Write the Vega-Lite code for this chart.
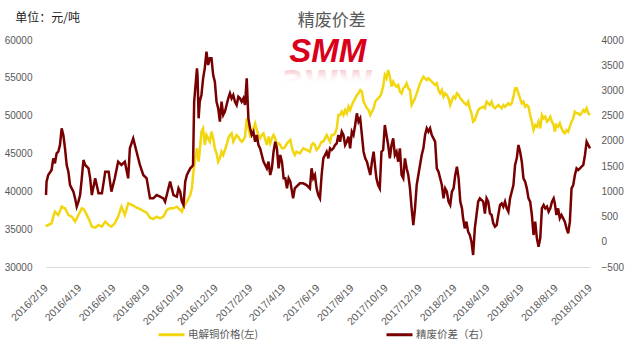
{
  "$schema": "https://vega.github.io/schema/vega-lite/v6.json",
  "width": 544,
  "height": 227,
  "autosize": {"type": "none"},
  "padding": {"left": 46, "top": 40, "right": 46, "bottom": 84},
  "background": "white",
  "config": {
    "view": {"stroke": null},
    "axis": {"grid": false, "ticks": false, "labelFont": "Liberation Sans", "labelFontSize": 10, "labelColor": "#595959", "title": null},
    "axisX": {"labelAngle": -45, "labelAlign": "right", "labelBaseline": "middle", "labelPadding": 19, "labelFontSize": 10.5, "labelFlush": false, "labelOverlap": false, "labelBound": false, "domainColor": "#d9d9d9", "domainWidth": 1}
  },
  "data": {
    "values": [
      {"date": "2016-02-19", "copper": 35332, "spread": 927},
      {"date": "2016-02-20", "copper": 35465, "spread": 1192},
      {"date": "2016-02-23", "copper": 35552, "spread": 1324},
      {"date": "2016-02-29", "copper": 35773, "spread": 1423},
      {"date": "2016-03-03", "copper": 36654, "spread": 1654},
      {"date": "2016-03-06", "copper": 37315, "spread": 1555},
      {"date": "2016-03-09", "copper": 37094, "spread": 1753},
      {"date": "2016-03-12", "copper": 36874, "spread": 1786},
      {"date": "2016-03-15", "copper": 37400, "spread": 1918},
      {"date": "2016-03-18", "copper": 37975, "spread": 2249},
      {"date": "2016-03-21", "copper": 37843, "spread": 2117},
      {"date": "2016-03-24", "copper": 37755, "spread": 1852},
      {"date": "2016-03-27", "copper": 37315, "spread": 1522},
      {"date": "2016-03-30", "copper": 36874, "spread": 1390},
      {"date": "2016-04-02", "copper": 36742, "spread": 1125},
      {"date": "2016-04-05", "copper": 36654, "spread": 1059},
      {"date": "2016-04-08", "copper": 36344, "spread": 993},
      {"date": "2016-04-11", "copper": 36013, "spread": 861},
      {"date": "2016-04-14", "copper": 36434, "spread": 696},
      {"date": "2016-04-17", "copper": 36874, "spread": 795},
      {"date": "2016-04-20", "copper": 37315, "spread": 927},
      {"date": "2016-04-23", "copper": 37755, "spread": 1258},
      {"date": "2016-04-26", "copper": 37667, "spread": 1621},
      {"date": "2016-04-29", "copper": 37315, "spread": 1522},
      {"date": "2016-05-05", "copper": 36434, "spread": 1456},
      {"date": "2016-05-08", "copper": 35905, "spread": 1258},
      {"date": "2016-05-11", "copper": 35332, "spread": 927},
      {"date": "2016-05-17", "copper": 35200, "spread": 1258},
      {"date": "2016-05-23", "copper": 35552, "spread": 960},
      {"date": "2016-05-29", "copper": 35332, "spread": 960},
      {"date": "2016-06-04", "copper": 35993, "spread": 1390},
      {"date": "2016-06-10", "copper": 35552, "spread": 1390},
      {"date": "2016-06-15", "copper": 35332, "spread": 993},
      {"date": "2016-06-21", "copper": 35773, "spread": 1258},
      {"date": "2016-06-27", "copper": 36654, "spread": 1588},
      {"date": "2016-07-03", "copper": 37975, "spread": 1522},
      {"date": "2016-07-09", "copper": 36874, "spread": 1588},
      {"date": "2016-07-15", "copper": 38415, "spread": 1258},
      {"date": "2016-07-18", "copper": 38326, "spread": 1852},
      {"date": "2016-07-24", "copper": 38106, "spread": 2050},
      {"date": "2016-07-30", "copper": 37843, "spread": 1786},
      {"date": "2016-08-05", "copper": 37667, "spread": 1522},
      {"date": "2016-08-11", "copper": 37403, "spread": 1324},
      {"date": "2016-08-17", "copper": 37183, "spread": 1258},
      {"date": "2016-08-23", "copper": 36522, "spread": 861},
      {"date": "2016-08-29", "copper": 36346, "spread": 861},
      {"date": "2016-09-04", "copper": 36654, "spread": 927},
      {"date": "2016-09-10", "copper": 36434, "spread": 894},
      {"date": "2016-09-16", "copper": 36654, "spread": 861},
      {"date": "2016-09-19", "copper": 37094, "spread": 795},
      {"date": "2016-09-22", "copper": 37535, "spread": 927},
      {"date": "2016-09-28", "copper": 37755, "spread": 1192},
      {"date": "2016-10-04", "copper": 37755, "spread": 927},
      {"date": "2016-10-10", "copper": 37975, "spread": 894},
      {"date": "2016-10-13", "copper": 37755, "spread": 1059},
      {"date": "2016-10-16", "copper": 37535, "spread": 993},
      {"date": "2016-10-19", "copper": 37315, "spread": 795},
      {"date": "2016-10-22", "copper": 37975, "spread": 729},
      {"date": "2016-10-25", "copper": 38282, "spread": 1192},
      {"date": "2016-10-28", "copper": 38636, "spread": 1324},
      {"date": "2016-11-03", "copper": 39517, "spread": 1456},
      {"date": "2016-11-06", "copper": 40398, "spread": 1489},
      {"date": "2016-11-08", "copper": 42160, "spread": 1522},
      {"date": "2016-11-10", "copper": 43262, "spread": 2777},
      {"date": "2016-11-12", "copper": 44362, "spread": 3042},
      {"date": "2016-11-15", "copper": 45684, "spread": 3438},
      {"date": "2016-11-16", "copper": 45023, "spread": 3306},
      {"date": "2016-11-18", "copper": 43922, "spread": 2447},
      {"date": "2016-11-20", "copper": 45243, "spread": 2777},
      {"date": "2016-11-23", "copper": 47887, "spread": 2910},
      {"date": "2016-11-26", "copper": 48327, "spread": 3240},
      {"date": "2016-11-29", "copper": 46124, "spread": 3438},
      {"date": "2016-12-02", "copper": 47446, "spread": 3769},
      {"date": "2016-12-05", "copper": 47006, "spread": 3504},
      {"date": "2016-12-08", "copper": 46565, "spread": 3636},
      {"date": "2016-12-11", "copper": 47887, "spread": 3636},
      {"date": "2016-12-14", "copper": 47006, "spread": 3306},
      {"date": "2016-12-17", "copper": 45684, "spread": 3174},
      {"date": "2016-12-20", "copper": 45023, "spread": 2777},
      {"date": "2016-12-23", "copper": 43922, "spread": 2645},
      {"date": "2016-12-26", "copper": 44362, "spread": 2381},
      {"date": "2016-12-29", "copper": 45243, "spread": 2777},
      {"date": "2017-01-01", "copper": 44803, "spread": 2513},
      {"date": "2017-01-04", "copper": 45464, "spread": 2579},
      {"date": "2017-01-07", "copper": 46124, "spread": 2711},
      {"date": "2017-01-10", "copper": 47006, "spread": 2843},
      {"date": "2017-01-13", "copper": 47446, "spread": 2943},
      {"date": "2017-01-16", "copper": 47666, "spread": 2843},
      {"date": "2017-01-19", "copper": 46565, "spread": 2910},
      {"date": "2017-01-22", "copper": 47006, "spread": 2777},
      {"date": "2017-01-25", "copper": 47446, "spread": 2711},
      {"date": "2017-01-28", "copper": 47226, "spread": 2876},
      {"date": "2017-01-31", "copper": 46786, "spread": 2843},
      {"date": "2017-02-03", "copper": 46565, "spread": 2777},
      {"date": "2017-02-06", "copper": 46786, "spread": 2843},
      {"date": "2017-02-09", "copper": 47226, "spread": 2711},
      {"date": "2017-02-12", "copper": 49649, "spread": 3240},
      {"date": "2017-02-15", "copper": 48327, "spread": 2447},
      {"date": "2017-02-18", "copper": 47446, "spread": 2249},
      {"date": "2017-02-21", "copper": 48106, "spread": 2117},
      {"date": "2017-02-24", "copper": 48327, "spread": 2183},
      {"date": "2017-02-27", "copper": 48988, "spread": 1984},
      {"date": "2017-03-02", "copper": 48106, "spread": 2117},
      {"date": "2017-03-05", "copper": 47446, "spread": 1918},
      {"date": "2017-03-08", "copper": 47006, "spread": 1852},
      {"date": "2017-03-11", "copper": 47446, "spread": 1720},
      {"date": "2017-03-14", "copper": 47666, "spread": 1588},
      {"date": "2017-03-20", "copper": 46124, "spread": 1456},
      {"date": "2017-03-23", "copper": 47226, "spread": 1588},
      {"date": "2017-03-26", "copper": 46344, "spread": 1324},
      {"date": "2017-03-29", "copper": 47006, "spread": 1456},
      {"date": "2017-04-01", "copper": 47446, "spread": 1786},
      {"date": "2017-04-04", "copper": 47006, "spread": 1984},
      {"date": "2017-04-07", "copper": 46124, "spread": 1852},
      {"date": "2017-04-10", "copper": 46344, "spread": 1456},
      {"date": "2017-04-13", "copper": 46124, "spread": 1720},
      {"date": "2017-04-16", "copper": 45684, "spread": 1588},
      {"date": "2017-04-19", "copper": 45684, "spread": 1258},
      {"date": "2017-04-22", "copper": 45904, "spread": 1258},
      {"date": "2017-04-25", "copper": 46344, "spread": 1059},
      {"date": "2017-04-28", "copper": 46565, "spread": 1258},
      {"date": "2017-05-01", "copper": 46786, "spread": 1192},
      {"date": "2017-05-03", "copper": 46124, "spread": 1059},
      {"date": "2017-05-06", "copper": 45243, "spread": 861},
      {"date": "2017-05-09", "copper": 44803, "spread": 1059},
      {"date": "2017-05-12", "copper": 45243, "spread": 1092},
      {"date": "2017-05-18", "copper": 45023, "spread": 1158},
      {"date": "2017-05-24", "copper": 45684, "spread": 1158},
      {"date": "2017-05-30", "copper": 45464, "spread": 1125},
      {"date": "2017-06-05", "copper": 45243, "spread": 1059},
      {"date": "2017-06-08", "copper": 46124, "spread": 1456},
      {"date": "2017-06-11", "copper": 46344, "spread": 1258},
      {"date": "2017-06-14", "copper": 46124, "spread": 1324},
      {"date": "2017-06-17", "copper": 45464, "spread": 1059},
      {"date": "2017-06-20", "copper": 45684, "spread": 927},
      {"date": "2017-06-23", "copper": 46124, "spread": 861},
      {"date": "2017-06-26", "copper": 46565, "spread": 1324},
      {"date": "2017-06-29", "copper": 46565, "spread": 1654},
      {"date": "2017-07-02", "copper": 47006, "spread": 1720},
      {"date": "2017-07-05", "copper": 47446, "spread": 1786},
      {"date": "2017-07-08", "copper": 47006, "spread": 1654},
      {"date": "2017-07-11", "copper": 46565, "spread": 1852},
      {"date": "2017-07-14", "copper": 47446, "spread": 1819},
      {"date": "2017-07-17", "copper": 47446, "spread": 1852},
      {"date": "2017-07-20", "copper": 47666, "spread": 1918},
      {"date": "2017-07-23", "copper": 48327, "spread": 1951},
      {"date": "2017-07-26", "copper": 50089, "spread": 2117},
      {"date": "2017-07-29", "copper": 50089, "spread": 1984},
      {"date": "2017-08-01", "copper": 50530, "spread": 2183},
      {"date": "2017-08-04", "copper": 50089, "spread": 2117},
      {"date": "2017-08-07", "copper": 50750, "spread": 1918},
      {"date": "2017-08-10", "copper": 50310, "spread": 1984},
      {"date": "2017-08-13", "copper": 51190, "spread": 2084},
      {"date": "2017-08-16", "copper": 50750, "spread": 1852},
      {"date": "2017-08-19", "copper": 51411, "spread": 2183},
      {"date": "2017-08-22", "copper": 51851, "spread": 2117},
      {"date": "2017-08-25", "copper": 52292, "spread": 2315},
      {"date": "2017-08-28", "copper": 52732, "spread": 2546},
      {"date": "2017-08-31", "copper": 52952, "spread": 2381},
      {"date": "2017-09-03", "copper": 53393, "spread": 2447},
      {"date": "2017-09-06", "copper": 53173, "spread": 2117},
      {"date": "2017-09-09", "copper": 51851, "spread": 1786},
      {"date": "2017-09-12", "copper": 51411, "spread": 1654},
      {"date": "2017-09-15", "copper": 50970, "spread": 1588},
      {"date": "2017-09-18", "copper": 50750, "spread": 1456},
      {"date": "2017-09-21", "copper": 50089, "spread": 1324},
      {"date": "2017-09-24", "copper": 50530, "spread": 1588},
      {"date": "2017-09-27", "copper": 50970, "spread": 1786},
      {"date": "2017-09-30", "copper": 51851, "spread": 1456},
      {"date": "2017-10-02", "copper": 52071, "spread": 1258},
      {"date": "2017-10-05", "copper": 52292, "spread": 1125},
      {"date": "2017-10-08", "copper": 52512, "spread": 1059},
      {"date": "2017-10-11", "copper": 52952, "spread": 1786},
      {"date": "2017-10-14", "copper": 53833, "spread": 1819},
      {"date": "2017-10-17", "copper": 55375, "spread": 2315},
      {"date": "2017-10-20", "copper": 54935, "spread": 2117},
      {"date": "2017-10-23", "copper": 56036, "spread": 1918},
      {"date": "2017-10-26", "copper": 55155, "spread": 1654},
      {"date": "2017-10-29", "copper": 53833, "spread": 1918},
      {"date": "2017-11-01", "copper": 54494, "spread": 2050},
      {"date": "2017-11-04", "copper": 54054, "spread": 1720},
      {"date": "2017-11-07", "copper": 53833, "spread": 1786},
      {"date": "2017-11-10", "copper": 54054, "spread": 1588},
      {"date": "2017-11-13", "copper": 53173, "spread": 1852},
      {"date": "2017-11-16", "copper": 52952, "spread": 1324},
      {"date": "2017-11-19", "copper": 53613, "spread": 1258},
      {"date": "2017-11-22", "copper": 53833, "spread": 1654},
      {"date": "2017-11-25", "copper": 54274, "spread": 1456},
      {"date": "2017-11-28", "copper": 53613, "spread": 1324},
      {"date": "2017-12-01", "copper": 53393, "spread": 1059},
      {"date": "2017-12-04", "copper": 51411, "spread": 663},
      {"date": "2017-12-07", "copper": 51851, "spread": 332},
      {"date": "2017-12-10", "copper": 52292, "spread": 663},
      {"date": "2017-12-13", "copper": 52952, "spread": 1125},
      {"date": "2017-12-16", "copper": 53613, "spread": 1324},
      {"date": "2017-12-19", "copper": 54274, "spread": 1522},
      {"date": "2017-12-22", "copper": 54714, "spread": 1720},
      {"date": "2017-12-25", "copper": 55155, "spread": 1852},
      {"date": "2017-12-28", "copper": 54935, "spread": 2117},
      {"date": "2017-12-31", "copper": 54714, "spread": 2249},
      {"date": "2018-01-03", "copper": 54935, "spread": 2183},
      {"date": "2018-01-06", "copper": 54714, "spread": 2249},
      {"date": "2018-01-09", "copper": 54494, "spread": 2117},
      {"date": "2018-01-12", "copper": 54274, "spread": 2050},
      {"date": "2018-01-15", "copper": 54054, "spread": 1984},
      {"date": "2018-01-18", "copper": 54274, "spread": 1456},
      {"date": "2018-01-21", "copper": 53393, "spread": 1390},
      {"date": "2018-01-24", "copper": 52952, "spread": 1258},
      {"date": "2018-01-27", "copper": 53393, "spread": 1125},
      {"date": "2018-01-30", "copper": 52512, "spread": 861},
      {"date": "2018-02-02", "copper": 52952, "spread": 1059},
      {"date": "2018-02-05", "copper": 52732, "spread": 993},
      {"date": "2018-02-08", "copper": 52292, "spread": 795},
      {"date": "2018-02-11", "copper": 51411, "spread": 729},
      {"date": "2018-02-14", "copper": 52071, "spread": 993},
      {"date": "2018-02-17", "copper": 52512, "spread": 1059},
      {"date": "2018-02-20", "copper": 52292, "spread": 1324},
      {"date": "2018-02-23", "copper": 52952, "spread": 1489},
      {"date": "2018-02-26", "copper": 52732, "spread": 1258},
      {"date": "2018-03-01", "copper": 52292, "spread": 795},
      {"date": "2018-03-04", "copper": 52071, "spread": 663},
      {"date": "2018-03-06", "copper": 51851, "spread": 465},
      {"date": "2018-03-09", "copper": 51631, "spread": 266},
      {"date": "2018-03-12", "copper": 51411, "spread": 399},
      {"date": "2018-03-15", "copper": 51851, "spread": 200},
      {"date": "2018-03-18", "copper": 50970, "spread": 134},
      {"date": "2018-03-21", "copper": 50310, "spread": 2},
      {"date": "2018-03-24", "copper": 49208, "spread": -262},
      {"date": "2018-03-27", "copper": 49428, "spread": 266},
      {"date": "2018-03-30", "copper": 50089, "spread": 531},
      {"date": "2018-04-02", "copper": 50750, "spread": 795},
      {"date": "2018-04-05", "copper": 50970, "spread": 861},
      {"date": "2018-04-11", "copper": 51190, "spread": 795},
      {"date": "2018-04-14", "copper": 50970, "spread": 559},
      {"date": "2018-04-17", "copper": 51851, "spread": 861},
      {"date": "2018-04-20", "copper": 51631, "spread": 795},
      {"date": "2018-04-23", "copper": 51411, "spread": 564},
      {"date": "2018-04-26", "copper": 51851, "spread": 531},
      {"date": "2018-04-29", "copper": 51190, "spread": 366},
      {"date": "2018-05-02", "copper": 50970, "spread": 299},
      {"date": "2018-05-05", "copper": 51190, "spread": 332},
      {"date": "2018-05-08", "copper": 51411, "spread": 531},
      {"date": "2018-05-11", "copper": 51190, "spread": 729},
      {"date": "2018-05-14", "copper": 50970, "spread": 762},
      {"date": "2018-05-17", "copper": 51411, "spread": 696},
      {"date": "2018-05-20", "copper": 51190, "spread": 795},
      {"date": "2018-05-23", "copper": 51411, "spread": 663},
      {"date": "2018-05-26", "copper": 51631, "spread": 597},
      {"date": "2018-05-29", "copper": 51411, "spread": 861},
      {"date": "2018-06-01", "copper": 51631, "spread": 993},
      {"date": "2018-06-04", "copper": 52512, "spread": 1125},
      {"date": "2018-06-07", "copper": 53613, "spread": 1522},
      {"date": "2018-06-10", "copper": 53613, "spread": 1654},
      {"date": "2018-06-13", "copper": 52952, "spread": 1918},
      {"date": "2018-06-16", "copper": 52292, "spread": 1786},
      {"date": "2018-06-19", "copper": 51631, "spread": 1588},
      {"date": "2018-06-22", "copper": 51851, "spread": 1258},
      {"date": "2018-06-25", "copper": 51190, "spread": 1192},
      {"date": "2018-06-28", "copper": 51411, "spread": 1059},
      {"date": "2018-07-01", "copper": 51190, "spread": 861},
      {"date": "2018-07-04", "copper": 50089, "spread": 795},
      {"date": "2018-07-07", "copper": 49208, "spread": 531},
      {"date": "2018-07-10", "copper": 48106, "spread": 134},
      {"date": "2018-07-13", "copper": 48767, "spread": 398},
      {"date": "2018-07-16", "copper": 48547, "spread": 68},
      {"date": "2018-07-19", "copper": 49208, "spread": -97},
      {"date": "2018-07-22", "copper": 48327, "spread": 68},
      {"date": "2018-07-25", "copper": 50089, "spread": 663},
      {"date": "2018-07-28", "copper": 49649, "spread": 729},
      {"date": "2018-07-31", "copper": 49869, "spread": 663},
      {"date": "2018-08-03", "copper": 49208, "spread": 696},
      {"date": "2018-08-06", "copper": 49428, "spread": 597},
      {"date": "2018-08-09", "copper": 49869, "spread": 663},
      {"date": "2018-08-12", "copper": 49208, "spread": 795},
      {"date": "2018-08-15", "copper": 48767, "spread": 861},
      {"date": "2018-08-17", "copper": 47887, "spread": 762},
      {"date": "2018-08-20", "copper": 48767, "spread": 531},
      {"date": "2018-08-23", "copper": 48547, "spread": 663},
      {"date": "2018-08-26", "copper": 48988, "spread": 465},
      {"date": "2018-08-29", "copper": 48327, "spread": 531},
      {"date": "2018-09-01", "copper": 47887, "spread": 465},
      {"date": "2018-09-04", "copper": 47666, "spread": 399},
      {"date": "2018-09-07", "copper": 48106, "spread": 266},
      {"date": "2018-09-10", "copper": 47887, "spread": 167},
      {"date": "2018-09-13", "copper": 48547, "spread": 399},
      {"date": "2018-09-16", "copper": 49208, "spread": 1059},
      {"date": "2018-09-19", "copper": 49649, "spread": 1125},
      {"date": "2018-09-22", "copper": 50530, "spread": 1324},
      {"date": "2018-09-25", "copper": 50310, "spread": 1456},
      {"date": "2018-09-28", "copper": 50310, "spread": 1423},
      {"date": "2018-10-01", "copper": 50089, "spread": 1456},
      {"date": "2018-10-04", "copper": 50310, "spread": 1489},
      {"date": "2018-10-07", "copper": 50750, "spread": 1522},
      {"date": "2018-10-10", "copper": 50530, "spread": 1720},
      {"date": "2018-10-13", "copper": 50970, "spread": 1984},
      {"date": "2018-10-16", "copper": 50310, "spread": 1918},
      {"date": "2018-10-19", "copper": 50089, "spread": 1852}
    ]
  },
  "layer": [
    {
      "mark": {"type": "line", "strokeWidth": 2.5},
      "encoding": {
        "x": {
          "field": "date", "type": "temporal",
          "scale": {"type": "utc", "domain": [{"year": 2016, "month": 2, "date": 19, "utc": true}, {"year": 2018, "month": 10, "date": 19, "utc": true}]},
          "axis": {
            "values": [
              {"year": 2016, "month": 2, "date": 19, "utc": true},
              {"year": 2016, "month": 4, "date": 19, "utc": true},
              {"year": 2016, "month": 6, "date": 19, "utc": true},
              {"year": 2016, "month": 8, "date": 19, "utc": true},
              {"year": 2016, "month": 10, "date": 19, "utc": true},
              {"year": 2016, "month": 12, "date": 19, "utc": true},
              {"year": 2017, "month": 2, "date": 19, "utc": true},
              {"year": 2017, "month": 4, "date": 19, "utc": true},
              {"year": 2017, "month": 6, "date": 19, "utc": true},
              {"year": 2017, "month": 8, "date": 19, "utc": true},
              {"year": 2017, "month": 10, "date": 19, "utc": true},
              {"year": 2017, "month": 12, "date": 19, "utc": true},
              {"year": 2018, "month": 2, "date": 19, "utc": true},
              {"year": 2018, "month": 4, "date": 19, "utc": true},
              {"year": 2018, "month": 6, "date": 19, "utc": true},
              {"year": 2018, "month": 8, "date": 19, "utc": true},
              {"year": 2018, "month": 10, "date": 19, "utc": true}
            ],
            "tickCount": 40,
            "labelExpr": "utcFormat(datum.value, '%Y/%-m/%-d')",
            "labelOverlap": false
          }
        },
        "y": {
          "field": "copper", "type": "quantitative",
          "scale": {"domain": [30000, 60000], "nice": false, "zero": false},
          "axis": {"orient": "left", "values": [30000, 35000, 40000, 45000, 50000, 55000, 60000], "tickCount": 20, "format": "d", "domain": false, "labelPadding": 14}
        },
        "color": {
          "datum": "电解铜价格(左)",
          "scale": {"domain": ["电解铜价格(左)", "精废价差（右）"], "range": ["#f2d60f", "#780000"]},
          "legend": {
            "orient": "none", "legendX": 111, "legendY": 280, "direction": "horizontal", "title": null,
            "symbolType": "stroke", "symbolSize": 676, "symbolStrokeWidth": 3,
            "labelFont": "Noto Sans CJK SC", "labelFontSize": 10.5, "labelColor": "#595959",
            "columnPadding": 121, "labelOffset": 2
          }
        }
      }
    },
    {
      "mark": {"type": "line", "strokeWidth": 2.5},
      "encoding": {
        "x": {"field": "date", "type": "temporal", "scale": {"type": "utc", "domain": [{"year": 2016, "month": 2, "date": 19, "utc": true}, {"year": 2018, "month": 10, "date": 19, "utc": true}]}},
        "y": {
          "field": "spread", "type": "quantitative",
          "scale": {"domain": [-500, 4000], "nice": false, "zero": false},
          "axis": {"orient": "right", "values": [-500, 0, 500, 1000, 1500, 2000, 2500, 3000, 3500, 4000], "tickCount": 20, "format": "d", "domain": false, "labelAlign": "left", "labelPadding": 11}
        },
        "color": {"datum": "精废价差（右）"}
      }
    },
    {
      "data": {"values": [{}]},
      "layer": [
        {
          "mark": {"type": "text", "text": "SMM", "font": "Liberation Sans", "fontSize": 33, "fontWeight": "bold", "fontStyle": "italic", "color": "#d9001b", "align": "center", "baseline": "alphabetic"},
          "encoding": {
            "x": {"datum": {"year": 2017, "month": 7, "date": 7, "utc": true}, "type": "temporal"},
            "y": {"datum": 57092, "type": "quantitative"}
          }
        },
        {
          "mark": {"type": "text", "text": "ƧWW", "font": "DejaVu Sans", "fontSize": 31, "fontWeight": "bold", "align": "center", "baseline": "alphabetic",
            "color": {"gradient": "linear", "x1": 0, "y1": 0, "x2": 0, "y2": 1, "stops": [{"offset": 0, "color": "#ee8a94"}, {"offset": 0.6, "color": "rgba(255,255,255,0)"}]}},
          "encoding": {
            "x": {"datum": {"year": 2017, "month": 7, "date": 7, "utc": true}, "type": "temporal"},
            "y": {"datum": 53128, "type": "quantitative"}
          }
        },
        {
          "mark": {"type": "text", "text": "单位：元/吨", "font": "Noto Sans CJK SC", "fontSize": 12, "color": "#222222", "align": "left", "baseline": "middle"},
          "encoding": {
            "x": {"datum": {"year": 2015, "month": 12, "date": 26, "utc": true}, "type": "temporal"},
            "y": {"datum": 62908, "type": "quantitative"}
          }
        },
        {
          "mark": {"type": "text", "text": "精废价差", "font": "Noto Sans CJK SC", "fontSize": 17, "color": "#595959", "align": "center", "baseline": "alphabetic"},
          "encoding": {
            "x": {"datum": {"year": 2017, "month": 7, "date": 14, "utc": true}, "type": "temporal"},
            "y": {"datum": 61850, "type": "quantitative"}
          }
        }
      ],
      "encoding": {
        "x": {"scale": {"type": "utc", "domain": [{"year": 2016, "month": 2, "date": 19, "utc": true}, {"year": 2018, "month": 10, "date": 19, "utc": true}]}},
        "y": {"scale": {"domain": [30000, 60000], "nice": false, "zero": false}, "axis": null}
      }
    }
  ],
  "resolve": {"scale": {"y": "independent"}}
}
